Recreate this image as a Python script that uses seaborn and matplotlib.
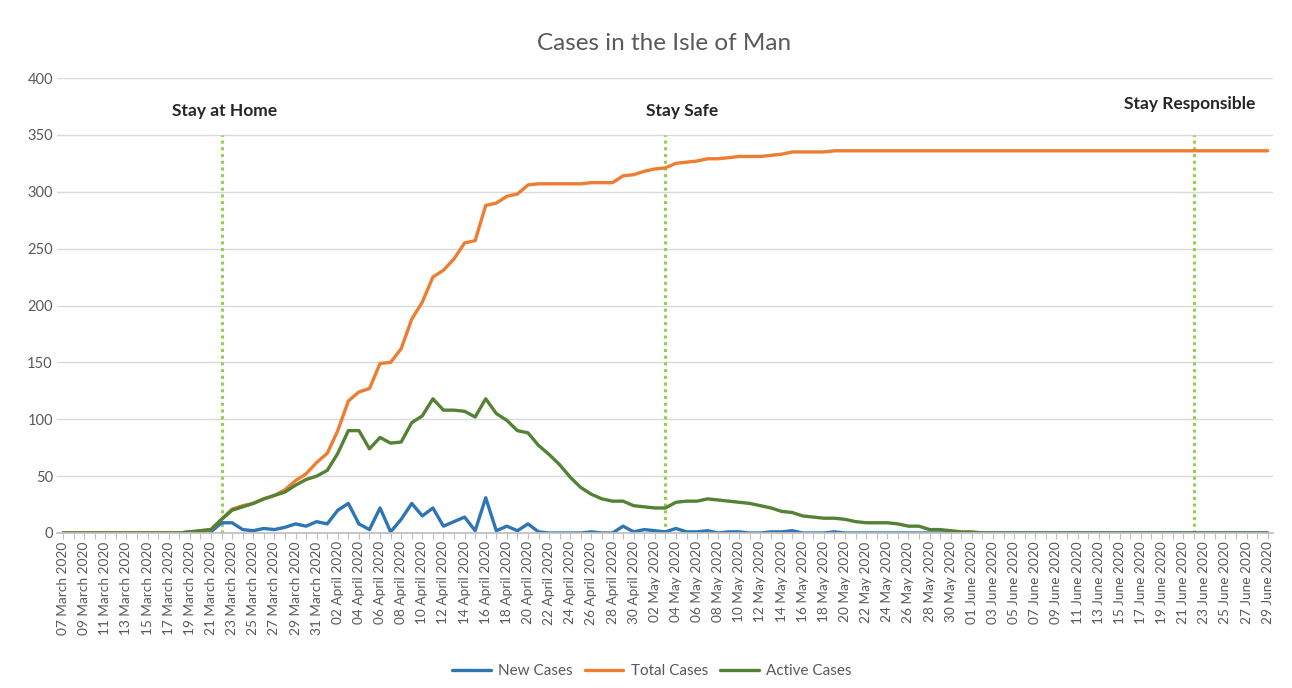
import pandas as pd
import numpy as np
import matplotlib
matplotlib.use("Agg")
import matplotlib.pyplot as plt
import seaborn as sns

# daily figures, 07 March 2020 - 29 June 2020
dates = pd.date_range("2020-03-07", "2020-06-29", freq="D")

new_cases = [0] * 12 + [1, 1, 1,
             9, 9, 3, 2, 4, 3, 5, 8, 6, 10, 8,
             20, 26, 8, 3, 22, 1, 12, 26, 15, 22,
             6, 10, 14, 2, 31, 2, 6, 2, 8, 1,
             0, 0, 0, 0, 1, 0, 0, 6, 1, 3,
             2, 1, 4, 1, 1, 2, 0, 1, 1, 0,
             0, 1, 1, 2, 0, 0, 0, 1, 0, 0] + [0] * 39

total_cases = [0] * 12 + [1, 2, 3,
               12, 21, 24, 26, 30, 33, 38, 46, 52, 62, 70,
               90, 116, 124, 127, 149, 150, 162, 188, 203, 225,
               231, 241, 255, 257, 288, 290, 296, 298, 306, 307,
               307, 307, 307, 307, 308, 308, 308, 314, 315, 318,
               320, 321, 325, 326, 327, 329, 329, 330, 331, 331,
               331, 332, 333, 335, 335, 335, 335, 336, 336, 336] + [336] * 39

active_cases = [0] * 12 + [1, 2, 3,
                12, 20, 23, 26, 30, 33, 36, 42, 47, 50, 55,
                70, 90, 90, 74, 84, 79, 80, 97, 103, 118,
                108, 108, 107, 102, 118, 105, 99, 90, 88, 77,
                69, 60, 49, 40, 34, 30, 28, 28, 24, 23,
                22, 22, 27, 28, 28, 30, 29, 28, 27, 26,
                24, 22, 19, 18, 15, 14, 13, 13, 12, 10,
                9, 9, 9, 8, 6, 6, 3, 3, 2, 1,
                1] + [0] * 28

# lockdown phases
phase_names = ["Stay at Home", "Stay Safe", "Stay Responsible"]
phase_dates = ["2020-03-22", "2020-05-03", "2020-06-22"]

series_names = ["New Cases", "Total Cases", "Active Cases"]
colors = ["#2E75B6", "#ED7D31", "#548235"]

day = np.arange(len(dates))
df = pd.DataFrame({"day": np.tile(day, 3),
                   "cases": new_cases + total_cases + active_cases,
                   "series": np.repeat(series_names, len(dates))})

sns.set_theme(style="white")
plt.rcParams["font.family"] = ["Lato", "DejaVu Sans"]

fig = plt.figure(figsize=(12.92, 6.88), dpi=100)
ax = fig.add_axes([57 / 1292, 155 / 688, 1216 / 1292, 455 / 688])

sns.lineplot(data=df, x="day", y="cases", hue="series", palette=colors,
             hue_order=series_names, linewidth=2.4, ax=ax, legend=False)

# phase markers
for name, d in zip(phase_names, phase_dates):
    i = dates.get_loc(pd.Timestamp(d))
    ax.vlines(i, 0, 350, colors="#92D050", linestyles=(0, (1, 1.2)), linewidth=2.2, zorder=1)
ax.text(15.3, 371, phase_names[0], ha="center", va="center", fontsize=12.5, fontweight="bold", color="#262626")
ax.text(58.6, 371, phase_names[1], ha="center", va="center", fontsize=12.5, fontweight="bold", color="#262626")
ax.text(106.6, 377, phase_names[2], ha="center", va="center", fontsize=12.5, fontweight="bold", color="#262626")

ax.set_xlim(-0.57, 114.5)
ax.set_ylim(0, 400)
ax.set_yticks(range(0, 401, 50))
ax.yaxis.grid(True, color="#D9D9D9", linewidth=1)
ax.set_axisbelow(True)

ax.set_xticks(day[::2])
ax.set_xticklabels([d.strftime("%d %B %Y") for d in dates[::2]], rotation=90)
ax.set_xticks(day, minor=True)
ax.tick_params(axis="x", which="both", bottom=True, length=4, width=0.8, color="#BFBFBF",
               labelsize=9.8, labelcolor="#595959", pad=2)
ax.tick_params(axis="y", length=0, labelsize=10.5, labelcolor="#595959", pad=3)

for s in ["top", "right", "left"]:
    ax.spines[s].set_visible(False)
ax.spines["bottom"].set_color("#BFBFBF")
ax.set_xlabel("")
ax.set_ylabel("")

fig.text(664 / 1292, 1 - 43 / 688, "Cases in the Isle of Man", ha="center", va="center",
         fontsize=17.5, color="#595959")

handles = [plt.Line2D([], [], color=c, linewidth=2.4) for c in colors]
fig.legend(handles, series_names, loc="center", bbox_to_anchor=(652 / 1292, 1 - 671 / 688),
           ncol=3, frameon=False, fontsize=11, labelcolor="#595959", handlelength=2.5,
           columnspacing=0.8, handletextpad=0.5)

fig.savefig("out.png", dpi=100)
